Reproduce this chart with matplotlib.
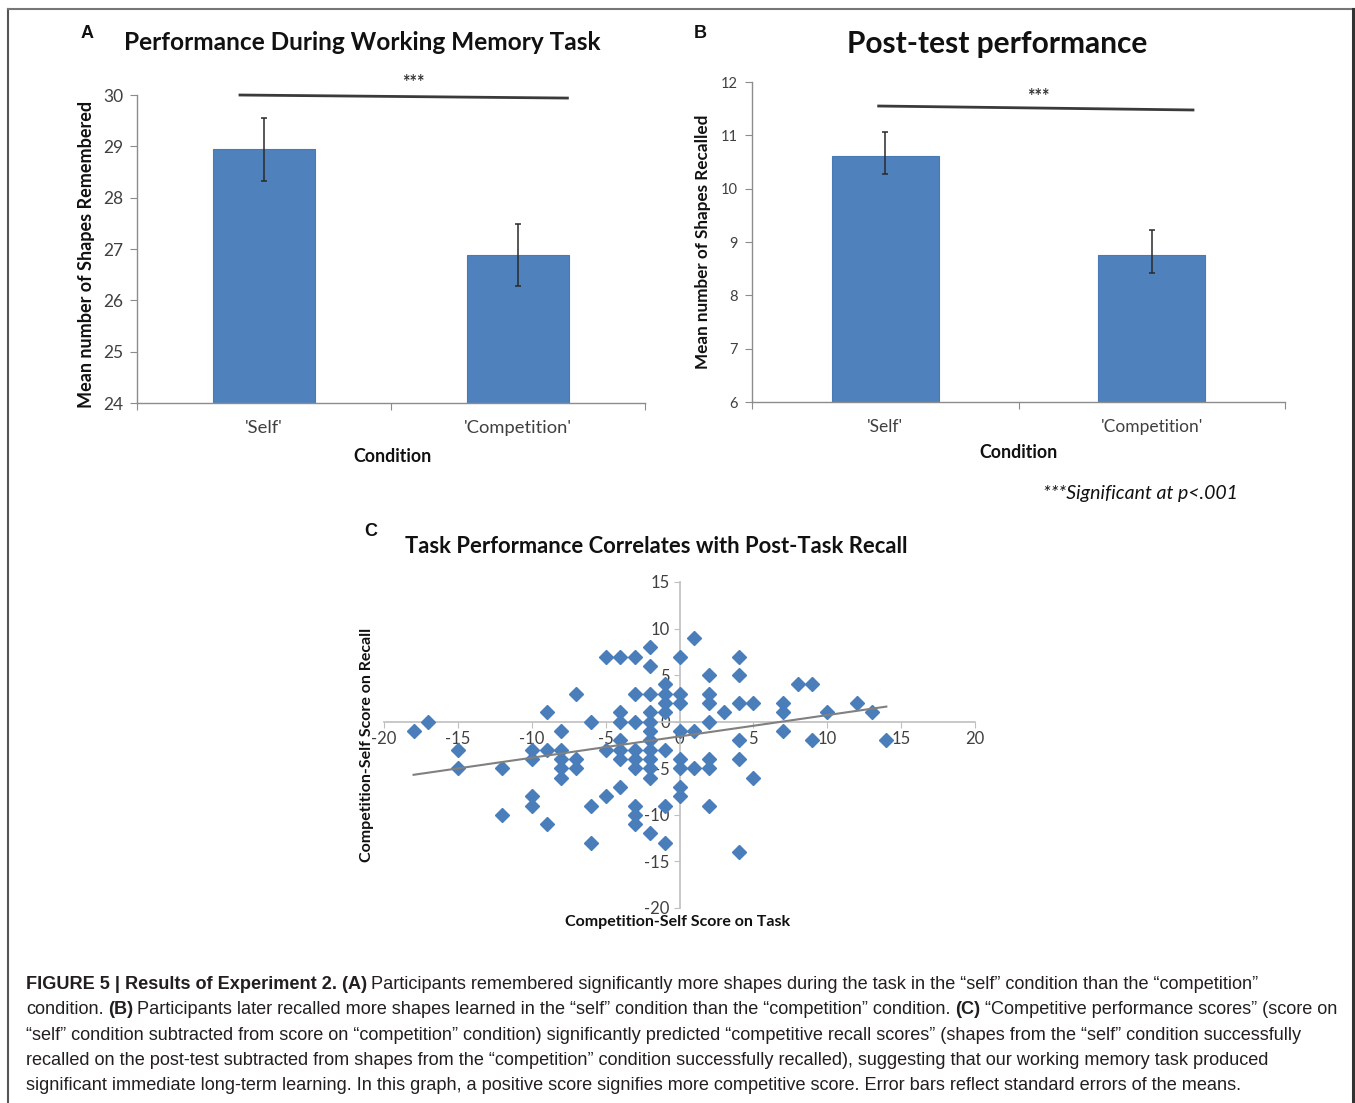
import numpy as np
import matplotlib
matplotlib.use("Agg")
import matplotlib.pyplot as plt
from matplotlib.text import Annotation
from matplotlib.lines import Line2D

# ---------------- data ----------------
conditions = ["'Self'", "'Competition'"]
a_means = [28.94, 26.88]
a_err = [0.61, 0.61]
b_means = [10.61, 8.75]
b_err_low = [0.33, 0.33]
b_err_high = [0.46, 0.48]

task_x = [-18, -17, -15, -15, -12, -12, -10, -10, -10, -10,
          -9, -9, -9, -8, -8, -8, -8, -8, -7, -7, -7,
          -6, -6, -6, -5, -5, -5,
          -4, -4, -4, -4, -4, -4, -4,
          -3, -3, -3, -3, -3, -3, -3, -3, -3,
          -2, -2, -2, -2, -2, -2, -2, -2, -2, -2, -2, -2,
          -1, -1, -1, -1, -1, -1, -1,
          0, 0, 0, 0, 0, 0, 0, 0,
          1, 1, 1,
          2, 2, 2, 2, 2, 2, 2,
          3,
          4, 4, 4, 4, 4, 4,
          5, 5,
          7, 7, 7,
          8, 9, 9, 10, 12, 13, 14]
recall_y = [-1, 0, -3, -5, -5, -10, -3, -4, -8, -9,
            1, -3, -11, -1, -3, -4, -5, -6, 3, -4, -5,
            0, -9, -13, 7, -3, -8,
            7, 1, 0, -2, -3, -4, -7,
            7, 3, 0, -3, -4, -5, -9, -10, -11,
            8, 6, 3, 1, 0, -1, -2, -3, -4, -5, -6, -12,
            4, 3, 2, 1, -3, -9, -13,
            7, 3, 2, -1, -4, -5, -7, -8,
            9, -1, -5,
            5, 3, 2, 0, -4, -5, -9,
            1,
            7, 5, 2, -2, -4, -14,
            2, -6,
            2, 1, -1,
            4, 4, -2, 1, 2, 1, -2]

a_yticks = [24, 25, 26, 27, 28, 29, 30]
b_yticks = [6, 7, 8, 9, 10, 11, 12]
c_xticks = [-20, -15, -10, -5, 0, 5, 10, 15, 20]
c_yticks = [-20, -15, -10, -5, 0, 5, 10, 15]

# ---------------- figure ----------------
W, H = 1355, 1103
fig = plt.figure(figsize=(W / 100, H / 100), dpi=100)
fig.patch.set_facecolor("white")

def fx(px):
    return px / W

def fy(py):
    return 1 - py / H

def box(l, t, r, b):
    return [fx(l), fy(b), (r - l) / W, (b - t) / H]

CF = "Lato"
BLUE = "#4F81BD"
SPINE = "#8C8C8C"
TICKC = "#404040"

def bar_panel(rect, means, yerr, yticks, tick_fs, cat_fs):
    ax = fig.add_axes(rect)
    x = np.arange(len(means))
    ax.bar(x, means, width=0.4, color=BLUE, edgecolor="#4A7AB5", linewidth=0.8,
           yerr=yerr, capsize=2.5,
           error_kw=dict(ecolor="#2a2a2a", elinewidth=1.1, capthick=1.1), zorder=2)
    ax.set_xlim(-0.5, len(means) - 0.5)
    ax.set_ylim(yticks[0], yticks[-1])
    ax.set_yticks(yticks)
    ax.set_yticklabels([str(t) for t in yticks], fontfamily=CF, fontsize=tick_fs, color=TICKC)
    ax.set_xticks(np.arange(len(means) + 1) - 0.5)
    ax.set_xticklabels([])
    ax.set_xticks(x, minor=True)
    ax.set_xticklabels(conditions, minor=True, fontfamily=CF, fontsize=cat_fs, color=TICKC)
    ax.tick_params(axis="x", which="minor", length=0, pad=12)
    ax.tick_params(axis="x", which="major", length=5, color=SPINE, direction="out")
    ax.tick_params(axis="y", length=5, color=SPINE, direction="out", pad=5)
    for s in ["top", "right"]:
        ax.spines[s].set_visible(False)
    for s in ["left", "bottom"]:
        ax.spines[s].set_color(SPINE)
        ax.spines[s].set_linewidth(1.0)
    return ax

# ----- Panel A -----
axA = bar_panel(box(137, 95, 645, 403), a_means, a_err, a_yticks, 12.5, 13.2)
axA.plot([-0.10, 1.20], [30.0, 29.94], color="#3a3a3a", lw=2, clip_on=False, solid_capstyle="butt")
axA.text(0.59, 30.07, "***", ha="center", va="bottom", fontsize=13, fontweight="bold",
         fontfamily=CF, color="#333", clip_on=False)
fig.text(fx(362), fy(42), "Performance During Working Memory Task", ha="center", va="center",
         fontsize=17.6, fontweight="bold", fontfamily=CF, color="#111")
fig.text(fx(87), fy(33), "A", ha="center", va="center", fontsize=13, fontweight="bold",
         fontfamily="Liberation Sans", color="#111")
fig.text(fx(87), fy(254), "Mean number of Shapes Remembered", rotation=90, ha="center",
         va="center", fontsize=13, fontweight="bold", fontfamily=CF, color="#111")
fig.text(fx(392), fy(456), "Condition", ha="center", va="center", fontsize=12.8,
         fontweight="bold", fontfamily=CF, color="#111")

# ----- Panel B -----
axB = bar_panel(box(752, 82, 1285, 402), b_means, [b_err_low, b_err_high], b_yticks, 10.5, 12.5)
axB.plot([-0.03, 1.16], [11.55, 11.475], color="#3a3a3a", lw=2, clip_on=False, solid_capstyle="butt")
axB.text(0.574, 11.57, "***", ha="center", va="bottom", fontsize=13, fontweight="bold",
         fontfamily=CF, color="#333", clip_on=False)
fig.text(fx(997), fy(44), "Post-test performance", ha="center", va="center",
         fontsize=21.5, fontweight="bold", fontfamily=CF, color="#111")
fig.text(fx(700), fy(33), "B", ha="center", va="center", fontsize=13, fontweight="bold",
         fontfamily="Liberation Sans", color="#111")
fig.text(fx(703), fy(242), "Mean number of Shapes Recalled", rotation=90, ha="center",
         va="center", fontsize=12.3, fontweight="bold", fontfamily=CF, color="#111")
fig.text(fx(1019), fy(453), "Condition", ha="center", va="center", fontsize=12.8,
         fontweight="bold", fontfamily=CF, color="#111")
fig.text(fx(1140), fy(493), "***Significant at p<.001", ha="center", va="center",
         fontsize=14, style="italic", fontfamily=CF, color="#111")

# ----- Panel C -----
axC = fig.add_axes(box(384, 582, 975, 908))
axC.set_xlim(c_xticks[0], c_xticks[-1])
axC.set_ylim(c_yticks[0], c_yticks[-1])
axC.plot(task_x, recall_y, linestyle="none", marker="D", markersize=7.5,
         color="#4A7EBB", markeredgecolor="#4A7EBB", zorder=3)
coef = np.polyfit(task_x, recall_y, 1)
xs = np.array([min(task_x), max(task_x)])
axC.plot(xs, np.polyval(coef, xs), color="#808080", lw=1.5, zorder=4)
axC.spines["left"].set_position(("data", 0))
axC.spines["bottom"].set_position(("data", 0))
for s in ["top", "right"]:
    axC.spines[s].set_visible(False)
for s in ["left", "bottom"]:
    axC.spines[s].set_color("#BFBFBF")
    axC.spines[s].set_linewidth(1.2)
axC.set_xticks(c_xticks)
axC.set_xticklabels([str(t) for t in c_xticks], fontfamily=CF, fontsize=12, color=TICKC)
axC.set_yticks(c_yticks)
axC.set_yticklabels([str(t) for t in c_yticks], fontfamily=CF, fontsize=12, color=TICKC)
axC.tick_params(axis="both", length=4, color="#BFBFBF", direction="out", pad=3)
axC.set_facecolor("none")
fig.text(fx(656), fy(547), "Task Performance Correlates with Post-Task Recall", ha="center",
         va="center", fontsize=15.8, fontweight="bold", fontfamily=CF, color="#111")
fig.text(fx(371), fy(531), "C", ha="center", va="center", fontsize=13, fontweight="bold",
         fontfamily="Liberation Sans", color="#111")
fig.text(fx(367), fy(745), "Competition-Self Score on Recall", rotation=90, ha="center",
         va="center", fontsize=11.5, fontweight="bold", fontfamily=CF, color="#111")
fig.text(fx(678), fy(922), "Competition-Self Score on Task", ha="center", va="center",
         fontsize=11.5, fontweight="bold", fontfamily=CF, color="#111")

# ----- border -----
bc = "#555555"
fig.add_artist(Line2D([fx(8), fx(8)], [fy(1103), fy(9)], color=bc, lw=1.5))
fig.add_artist(Line2D([fx(8), fx(1354)], [fy(9), fy(9)], color="#777777", lw=1.5))
fig.add_artist(Line2D([fx(1353), fx(1353)], [fy(1103), fy(9)], color="#333333", lw=2.2))

# ----- caption -----
CAP = "Liberation Sans"
CS = 13.07
SP = CS * 0.24
CAPC = "#231F20"

def rich_line(y_px, parts):
    prev = None
    for s, bold in parts:
        kw = dict(fontsize=CS, fontfamily=CAP, fontweight="bold" if bold else "normal",
                  color=CAPC, ha="left", va="baseline")
        if prev is None:
            prev = fig.text(fx(26), fy(y_px), s, **kw)
        else:
            a = Annotation(s, xy=(1, 0), xycoords=prev, xytext=(SP, 0),
                           textcoords="offset points", **{**kw, "va": "bottom"})
            fig.add_artist(a)
            prev = a

lines = [
    [("FIGURE 5 | Results of Experiment 2. (A)", True),
     ("Participants remembered significantly more shapes during the task in the \u201cself\u201d condition than the \u201ccompetition\u201d", False)],
    [("condition.", False), ("(B)", True),
     ("Participants later recalled more shapes learned in the \u201cself\u201d condition than the \u201ccompetition\u201d condition.", False),
     ("(C)", True), ("\u201cCompetitive performance scores\u201d (score on", False)],
    [("\u201cself\u201d condition subtracted from score on \u201ccompetition\u201d condition) significantly predicted \u201ccompetitive recall scores\u201d (shapes from the \u201cself\u201d condition successfully", False)],
    [("recalled on the post-test subtracted from shapes from the \u201ccompetition\u201d condition successfully recalled), suggesting that our working memory task produced", False)],
    [("significant immediate long-term learning. In this graph, a positive score signifies more competitive score. Error bars reflect standard errors of the means.", False)],
]
for i, parts in enumerate(lines):
    rich_line(989 + i * 25.3, parts)

fig.savefig("out.png", dpi=100, facecolor="white")
